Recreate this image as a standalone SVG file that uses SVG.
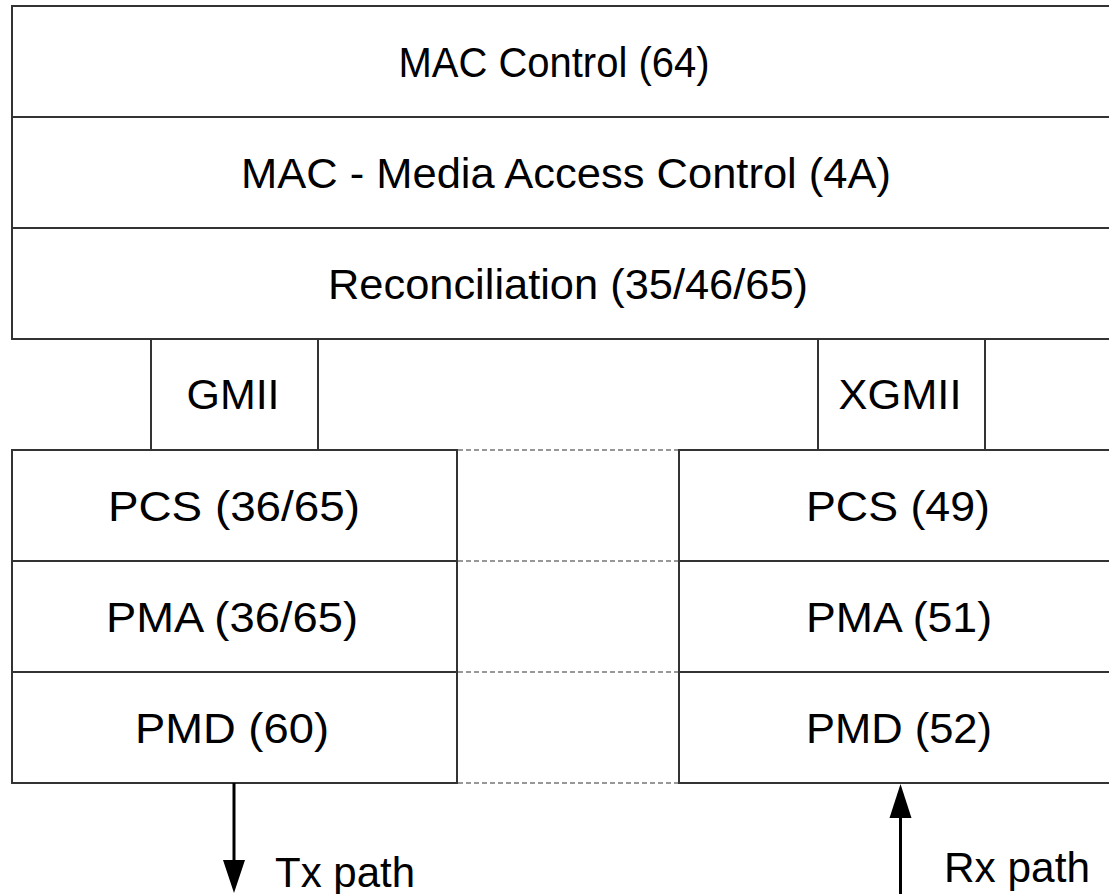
<svg xmlns="http://www.w3.org/2000/svg" width="1109" height="894" viewBox="0 0 1109 894">
<style>
.box{fill:#fff;stroke:#333;stroke-width:2}
.dash{stroke:#777;stroke-width:1.5;stroke-dasharray:5 3;fill:none}
.t{font-family:"Liberation Sans",Arial,sans-serif;font-size:42px;fill:#000;text-anchor:middle}
.l{font-family:"Liberation Sans",Arial,sans-serif;font-size:42px;fill:#000}
.arr{stroke:#000;stroke-width:3;fill:none}
</style>
<rect width="1109" height="894" fill="#fff"/>
<g id="mac-control"><rect class="box" x="12" y="6" width="1110" height="111"/><text class="t" x="554" y="77" textLength="311" lengthAdjust="spacingAndGlyphs">MAC Control (64)</text></g>
<g id="mac"><rect class="box" x="12" y="117" width="1110" height="111"/><text class="t" x="566" y="188" textLength="650" lengthAdjust="spacingAndGlyphs">MAC - Media Access Control (4A)</text></g>
<g id="reconciliation"><rect class="box" x="12" y="228" width="1110" height="111"/><text class="t" x="568" y="299" textLength="480" lengthAdjust="spacingAndGlyphs">Reconciliation (35/46/65)</text></g>
<g id="gmii"><rect class="box" x="151" y="339" width="167" height="111"/><text class="t" x="233" y="409" textLength="93" lengthAdjust="spacingAndGlyphs">GMII</text></g>
<g id="xgmii"><rect class="box" x="818" y="339" width="167" height="111"/><text class="t" x="900" y="409" textLength="123" lengthAdjust="spacingAndGlyphs">XGMII</text></g>
<g id="pcs-left"><rect class="box" x="12" y="450" width="445" height="111"/><text class="t" x="234" y="521" textLength="252" lengthAdjust="spacingAndGlyphs">PCS (36/65)</text></g>
<g id="pma-left"><rect class="box" x="12" y="561" width="445" height="111"/><text class="t" x="232" y="632" textLength="252" lengthAdjust="spacingAndGlyphs">PMA (36/65)</text></g>
<g id="pmd-left"><rect class="box" x="12" y="672" width="445" height="111"/><text class="t" x="232" y="743" textLength="194" lengthAdjust="spacingAndGlyphs">PMD (60)</text></g>
<g id="pcs-right"><rect class="box" x="679" y="450" width="440" height="111"/><text class="t" x="898" y="521" textLength="184" lengthAdjust="spacingAndGlyphs">PCS (49)</text></g>
<g id="pma-right"><rect class="box" x="679" y="561" width="440" height="111"/><text class="t" x="899" y="632" textLength="186" lengthAdjust="spacingAndGlyphs">PMA (51)</text></g>
<g id="pmd-right"><rect class="box" x="679" y="672" width="440" height="111"/><text class="t" x="899" y="743" textLength="186" lengthAdjust="spacingAndGlyphs">PMD (52)</text></g>
<g id="connectors">
<line class="dash" x1="458" y1="450" x2="678" y2="450"/>
<line class="dash" x1="458" y1="561" x2="678" y2="561"/>
<line class="dash" x1="458" y1="672" x2="678" y2="672"/>
<line class="dash" x1="458" y1="783" x2="678" y2="783"/>
<line class="arr" x1="234" y1="783" x2="234" y2="862"/>
<polygon points="223,860 245,860 234,893" fill="#000"/>
<line class="arr" x1="900.5" y1="894" x2="900.5" y2="816"/>
<polygon points="889.5,818 911.5,818 900.5,784" fill="#000"/>
</g>
<text class="l" x="275" y="887">Tx path</text>
<text class="l" x="944" y="882" textLength="146" lengthAdjust="spacingAndGlyphs">Rx path</text>
</svg>
